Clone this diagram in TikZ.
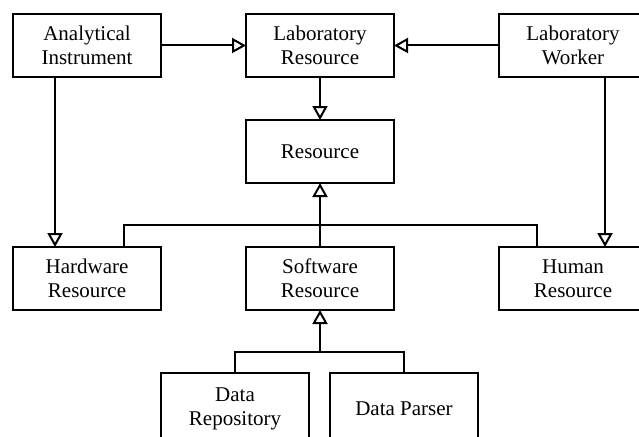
\documentclass[tikz,border=0pt]{standalone}
\usepackage{fontspec}
\setmainfont{Liberation Serif}
\usepackage{tikz}
\usetikzlibrary{arrows.meta,positioning}

\begin{document}
\begin{tikzpicture}[
  x=1pt, y=1pt,
  line width=2pt,
  every node/.style={font=\fontsize{21}{24}\selectfont},
  cls/.style ={rectangle, draw, minimum width=148pt, minimum height=63pt,
               align=center, inner sep=2pt, outer sep=0pt},
  gen/.style ={-{Triangle[open, length=14pt, width=15pt]}}
]
\useasboundingbox (0,0) rectangle (639,-436);

\node[cls] (lr) at (320,-45.5) {Laboratory\\Resource};
\node[cls, left=85pt of lr]  (ai) {Analytical\\Instrument};
\node[cls, right=105pt of lr] (lw) {Laboratory\\Worker};
\node[cls, below=43pt of lr] (res) {Resource};
\node[cls, below=64pt of res] (sw) {Software\\Resource};
\node[cls, left=85pt of sw]  (hw) {Hardware\\Resource};
\node[cls, right=105pt of sw] (hr) {Human\\Resource};
\node[cls, minimum height=72pt, below=63pt of sw, xshift=-85pt] (dr) {Data\\Repository};
\node[cls, minimum height=72pt, right=21pt of dr] (dp) {Data Parser};

% top row
\draw[gen] (ai) -- (lr);
\draw[gen] (lw) -- (lr);
\draw[gen] (lr) -- (res);
\draw[gen] ([xshift=42pt]ai.south west) -- ([xshift=42pt]hw.north west);
\draw[gen] ([xshift=106pt]lw.south west) -- ([xshift=106pt]hr.north west);

% resource kinds
\coordinate[above=22pt of sw.north] (upbus);
\draw ([xshift=111pt]hw.north west) |- (upbus) -| ([xshift=38pt]hr.north west);
\draw[gen] (sw) -- (res);

% software kinds
\coordinate[below=42pt of sw.south] (lowbus);
\draw (dr.north) |- (lowbus) -| (dp.north);
\draw[gen] (lowbus) -- (sw.south);
\end{tikzpicture}
\end{document}
